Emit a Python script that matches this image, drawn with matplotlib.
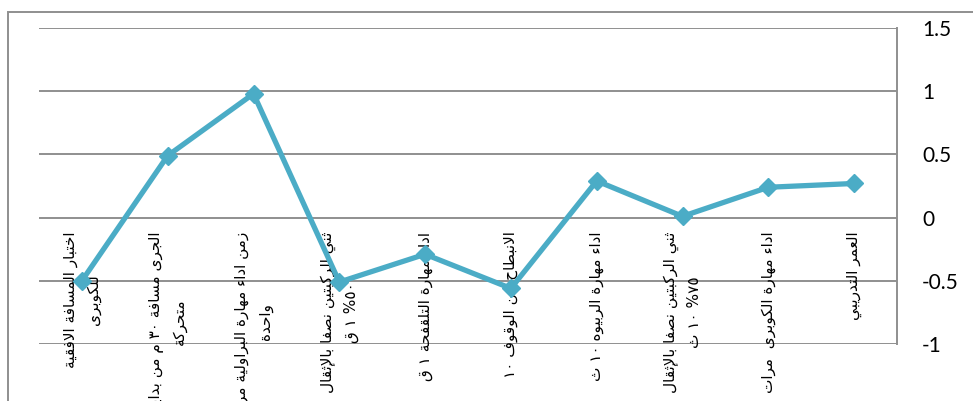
import re
import matplotlib
matplotlib.use("Agg")
import matplotlib.pyplot as plt
from matplotlib import transforms
from matplotlib.patches import Rectangle

# Category labels (logical Arabic order, "\n" marks the wrapped second line)
categories = [
    "اختبار المسافة الافقية\nللكوبرى",
    "الجرى مسافة ٣٠ م من بداية\nمتحركة",
    "زمن اداء مهارة البراولية مرة\nواحدة",
    "ثني الركبتين نصفا بالإثقال\n٥٠% ١ ق",
    "اداء مهارة التلقفحة ١ ق",
    "الانبطاح من الوقوف ١٠",
    "اداء مهارة الربيوه ١٠ ث",
    "ثني الركبتين نصفا بالإثقال\n٧٥% ١٠ ث",
    "اداء مهارة الكوبرى  مرات",
    "العمر التدريبي",
]
values = [-0.5, 0.49, 0.98, -0.51, -0.29, -0.56, 0.29, 0.01, 0.24, 0.27]
y_ticks = [-1, -0.5, 0, 0.5, 1, 1.5]
y_tick_labels = ["-1", "-0.5", "0", "0.5", "1", "1.5"]

# ---- minimal Arabic shaping (presentation forms) + right-to-left ordering ----
# letter -> (isolated-form code point, number of contextual forms)
_FORMS = {
    "\u0621": (0xFE80, 1),
    "\u0622": (0xFE81, 2), "\u0623": (0xFE83, 2), "\u0624": (0xFE85, 2),
    "\u0625": (0xFE87, 2), "\u0626": (0xFE89, 4), "\u0627": (0xFE8D, 2),
    "\u0628": (0xFE8F, 4), "\u0629": (0xFE93, 2), "\u062A": (0xFE95, 4),
    "\u062B": (0xFE99, 4), "\u062C": (0xFE9D, 4), "\u062D": (0xFEA1, 4),
    "\u062E": (0xFEA5, 4), "\u062F": (0xFEA9, 2), "\u0630": (0xFEAB, 2),
    "\u0631": (0xFEAD, 2), "\u0632": (0xFEAF, 2), "\u0633": (0xFEB1, 4),
    "\u0634": (0xFEB5, 4), "\u0635": (0xFEB9, 4), "\u0636": (0xFEBD, 4),
    "\u0637": (0xFEC1, 4), "\u0638": (0xFEC5, 4), "\u0639": (0xFEC9, 4),
    "\u063A": (0xFECD, 4), "\u0641": (0xFED1, 4), "\u0642": (0xFED5, 4),
    "\u0643": (0xFED9, 4), "\u0644": (0xFEDD, 4), "\u0645": (0xFEE1, 4),
    "\u0646": (0xFEE5, 4), "\u0647": (0xFEE9, 4), "\u0648": (0xFEED, 2),
    "\u0649": (0xFEEF, 2), "\u064A": (0xFEF1, 4),
}
_LAM_ALEF = {"\u0622": 0xFEF5, "\u0623": 0xFEF7, "\u0625": 0xFEF9, "\u0627": 0xFEFB}


def _dual(c):
    return c in _FORMS and _FORMS[c][1] == 4


def _joining(c):
    return c in _FORMS and _FORMS[c][1] >= 2


def shape(text):
    out, prev, i, n = [], None, 0, len(text)
    while i < n:
        c = text[i]
        if c not in _FORMS:
            out.append(c)
            prev = None
            i += 1
            continue
        link_prev = prev is not None and _dual(prev) and _joining(c)
        if c == "\u0644" and i + 1 < n and text[i + 1] in _LAM_ALEF:
            out.append(chr(_LAM_ALEF[text[i + 1]] + (1 if link_prev else 0)))
            prev = text[i + 1]
            i += 2
            continue
        nxt = text[i + 1] if i + 1 < n else None
        link_next = _dual(c) and nxt is not None and _joining(nxt)
        base, nforms = _FORMS[c]
        if nforms == 1:
            code = base
        elif link_prev and link_next:
            code = base + 3
        elif link_prev:
            code = base + 1
        elif link_next:
            code = base + 2
        else:
            code = base
        out.append(chr(code))
        prev = c
        i += 1
    return "".join(out)


def rtl(label):
    lines = []
    for line in label.split("\n"):
        s = shape(line)[::-1]
        # numbers keep their left-to-right digit order
        s = re.sub(r"[0-9\u0660-\u0669]+", lambda m: m.group(0)[::-1], s)
        lines.append(s)
    return "\n".join(lines)


# ---- figure ----
W, H = 973, 401
fig = plt.figure(figsize=(W / 100, H / 100), dpi=100)
fig.patch.set_facecolor("white")

# chart-area frame
fig.add_artist(Rectangle((8 / W, -0.2), 1.2, 1.2 - 12 / H, transform=fig.transFigure,
                         fill=False, edgecolor="#8f8f8f", linewidth=1.4))

ax = fig.add_axes([39 / W, 1 - 344 / H, (897 - 39) / W, (344 - 28) / H])
ax.set_facecolor("none")

x = list(range(len(values)))
ax.plot(x, values, color="#4BACC6", linewidth=3.8, marker="D", markersize=9.5,
        markeredgewidth=1, zorder=3, clip_on=False, solid_joinstyle="miter")

ax.set_xlim(-0.5, len(values) - 0.5)
ax.set_ylim(-1, 1.5)
ax.set_yticks(y_ticks)
ax.set_yticklabels(y_tick_labels, family="Lato", fontsize=15, color="#000000")
ax.yaxis.tick_right()
ax.tick_params(axis="y", length=0, pad=18)
for lbl in ax.get_yticklabels():
    lbl.set_horizontalalignment("left")
ax.set_xticks([])
ax.yaxis.grid(True, color="#8f8f8f", linewidth=1.4, zorder=1)
ax.set_axisbelow(True)

for side in ("top", "bottom", "left"):
    ax.spines[side].set_visible(False)
ax.spines["right"].set_color("#8f8f8f")
ax.spines["right"].set_linewidth(1.4)

# rotated category labels hanging below the zero line
shift = transforms.ScaledTranslation(0, -14 / 100, fig.dpi_scale_trans)
for i, lab in enumerate(categories):
    ax.text(i, 0, rtl(lab), transform=ax.transData + shift, rotation=90,
            ha="center", va="top", multialignment="center",
            family="DejaVu Sans", fontsize=11, linespacing=1.65,
            color="#000000", clip_on=False, zorder=2)

fig.savefig("out.png", dpi=100)
